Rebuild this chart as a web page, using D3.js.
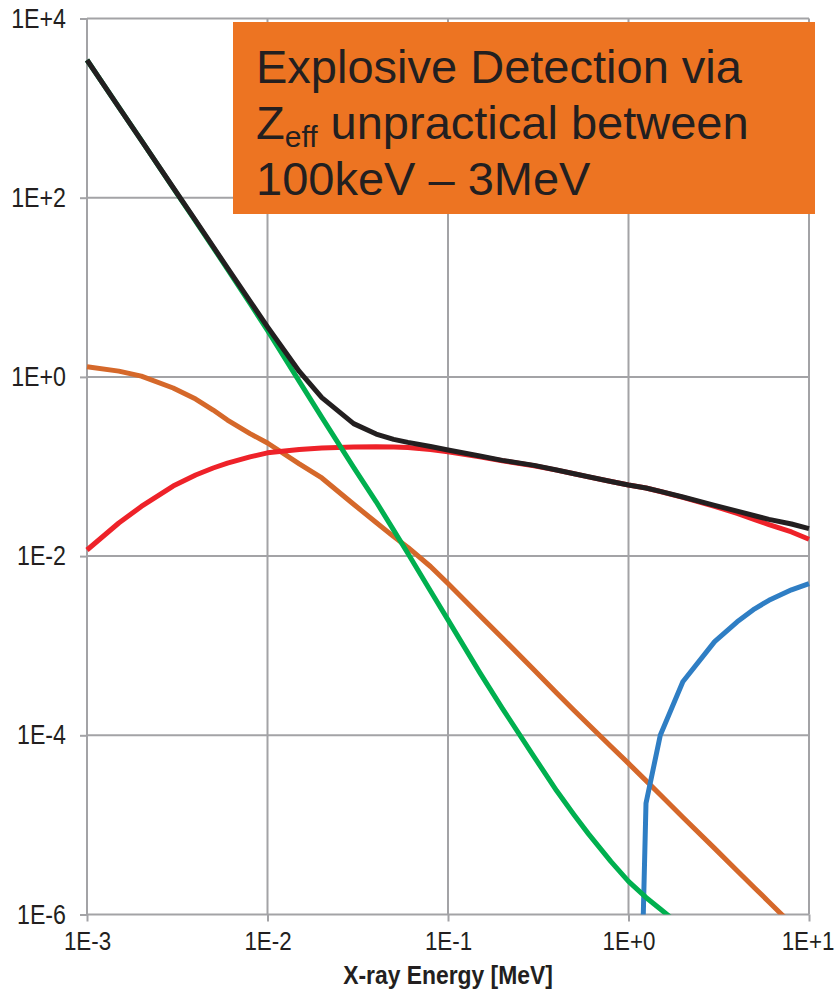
<!DOCTYPE html>
<html>
<head>
<meta charset="utf-8">
<script src="https://cdn.jsdelivr.net/npm/d3@7"></script>
<style>
  body { margin: 0; background: #fff; }
  svg { display: block; }
  .tick text { font-family: "Liberation Sans", Arial, sans-serif; fill: #231f20; }
</style>
</head>
<body>
<script>
// energies in MeV (common grid for all series)
var energy = [0.001, 0.0015, 0.002, 0.003, 0.004, 0.005, 0.006, 0.008, 0.01, 0.015,
  0.02, 0.03, 0.04, 0.05, 0.06, 0.08, 0.1, 0.15, 0.2, 0.3, 0.4, 0.5, 0.6, 0.8,
  1, 1.25, 1.5, 2, 3, 4, 5, 6, 8, 10];

// total attenuation (black)
var total = [3443, 1028, 437, 130, 55.4, 28.4, 16.5, 7.0, 3.62, 1.15,
  0.588, 0.301, 0.230, 0.201, 0.186, 0.167, 0.153, 0.131, 0.117, 0.103, 0.0913, 0.0831, 0.0769, 0.0681,
  0.0622, 0.0576, 0.0527, 0.0457, 0.0369, 0.0318, 0.0282, 0.0257, 0.0228, 0.0203];

// photoelectric (green)
var photo = [3440, 1027, 436, 129, 54.5, 27.8, 16.0, 6.6, 3.3, 0.89,
  0.353, 0.098, 0.0404, 0.0195, 0.0107, 0.00407, 0.00194, 5.01e-4, 2.0e-4, 5.75e-5, 2.40e-5, 1.29e-5, 7.94e-6, 3.89e-6,
  2.34e-6, 1.55e-6, 1.15e-6, 7.2e-7, 4.5e-7, 3.2e-7, 2.5e-7, 2.0e-7, 1.5e-7, 1.2e-7];

// incoherent / Compton (red)
var compton = [0.0117, 0.0234, 0.0358, 0.0605, 0.0804, 0.0962, 0.109, 0.128, 0.142, 0.155,
  0.161, 0.165, 0.166, 0.165, 0.163, 0.155, 0.146, 0.128, 0.116, 0.102, 0.091, 0.0829, 0.0767, 0.068,
  0.0622, 0.0575, 0.0526, 0.0453, 0.0358, 0.0299, 0.0256, 0.0225, 0.0186, 0.0154];

// coherent / Rayleigh (orange)
var coherent = [1.30, 1.16, 1.02, 0.752, 0.566, 0.427, 0.330, 0.233, 0.183, 0.107,
  0.0745, 0.0379, 0.0237, 0.0165, 0.0125, 0.00766, 0.00494, 2.17e-3, 1.22e-3, 5.36e-4, 2.97e-4, 1.89e-4, 1.32e-4, 7.5e-5,
  4.86e-5, 3.12e-5, 2.17e-5, 1.22e-5, 5.47e-6, 3.08e-6, 1.98e-6, 1.38e-6, 7.8e-7, 5.0e-7];

// pair production (blue), only above threshold
var pairEnergy = [1.022, 1.25, 1.5, 2, 3, 4, 5, 6, 8, 10];
var pair = [1e-12, 1.74e-5, 1.0e-4, 3.96e-4, 1.11e-3, 1.85e-3, 2.58e-3, 3.21e-3, 4.20e-3, 4.93e-3];

var xTicks = [1e-3, 1e-2, 1e-1, 1, 10];
var yTicks = [1e-6, 1e-4, 1e-2, 1, 1e2, 1e4];

var svgWidth = 840;
var svgHeight = 993;
var margin = { top: 18.5, right: 31, bottom: 78.5, left: 87 };
var width = svgWidth - margin.left - margin.right;
var height = svgHeight - margin.top - margin.bottom;

var svg = d3.select("body").append("svg")
  .attr("width", svgWidth)
  .attr("height", svgHeight);

var chartGroup = svg.append("g")
  .attr("transform", `translate(${margin.left}, ${margin.top})`);

var xScale = d3.scaleLog().domain([1e-3, 10]).range([0, width]);
var yScale = d3.scaleLog().domain([1e-6, 1e4]).range([height, 0]);

function sciFormat(v) {
  var e = Math.round(Math.log10(v));
  return "1E" + (e < 0 ? "-" : "+") + Math.abs(e);
}

// squeeze a text horizontally (narrow font look), keeping its anchor point
function narrow(sel, k) {
  sel.each(function () {
    var t = d3.select(this);
    var x = +(t.attr("x") || 0);
    t.attr("x", x / k).attr("transform", `scale(${k},1)`);
  });
}

var gridColor = "#a3a3a6";

// grid lines
chartGroup.append("g").selectAll("line")
  .data(xTicks).enter().append("line")
  .attr("x1", d => xScale(d)).attr("x2", d => xScale(d))
  .attr("y1", 0).attr("y2", height)
  .attr("stroke", gridColor).attr("stroke-width", 2);

chartGroup.append("g").selectAll("line")
  .data(yTicks).enter().append("line")
  .attr("x1", 0).attr("x2", width)
  .attr("y1", d => yScale(d)).attr("y2", d => yScale(d))
  .attr("stroke", gridColor).attr("stroke-width", 2);

// axes (outward tick marks + labels)
var bottomAxis = d3.axisBottom(xScale).tickValues(xTicks).tickFormat(sciFormat)
  .tickSizeInner(7).tickSizeOuter(0).tickPadding(10);
var leftAxis = d3.axisLeft(yScale).tickValues(yTicks).tickFormat(sciFormat)
  .tickSizeInner(7).tickSizeOuter(0).tickPadding(14);

var xAxis = chartGroup.append("g")
  .attr("transform", `translate(0, ${height})`)
  .call(bottomAxis);
var yAxis = chartGroup.append("g").call(leftAxis);

[xAxis, yAxis].forEach(function (ax) {
  ax.select(".domain").remove();
  ax.selectAll(".tick line").attr("stroke", gridColor).attr("stroke-width", 2);
});

// last x label sits at the window edge: keep it inside
xAxis.selectAll(".tick text").filter(d => d === 10)
  .attr("text-anchor", "end")
  .attr("x", 25);

xAxis.selectAll(".tick text").style("font-size", "26px").call(narrow, 0.86);
yAxis.selectAll(".tick text").style("font-size", "27px").call(narrow, 0.86);

// x axis title
chartGroup.append("text")
  .attr("x", width / 2)
  .attr("y", height + 70)
  .attr("text-anchor", "middle")
  .style("font-family", "'Liberation Sans', Arial, sans-serif")
  .style("font-weight", "bold")
  .style("font-size", "26px")
  .attr("fill", "#231f20")
  .text("X-ray Energy [MeV]")
  .call(narrow, 0.88);

// clip curves to the plot area
svg.append("defs").append("clipPath").attr("id", "plotClip")
  .append("rect").attr("x", -3).attr("y", -3).attr("width", width + 6).attr("height", height + 3);

var line = d3.line()
  .x(d => xScale(d[0]))
  .y(d => yScale(d[1]));

var series = [
  { xs: energy, ys: coherent, color: "#d5682a" },
  { xs: energy, ys: compton, color: "#ee2229" },
  { xs: pairEnergy, ys: pair, color: "#2f7ec4" },
  { xs: energy, ys: photo, color: "#00b04f" },
  { xs: energy, ys: total, color: "#231f20" }
];

var curves = chartGroup.append("g").attr("clip-path", "url(#plotClip)");
series.forEach(function (s) {
  curves.append("path")
    .datum(s.xs.map((e, i) => [e, s.ys[i]]))
    .attr("d", line)
    .attr("fill", "none")
    .attr("stroke", s.color)
    .attr("stroke-width", 5)
    .attr("stroke-linejoin", "round");
});

// annotation box
var note = svg.append("g");
note.append("rect")
  .attr("x", 233).attr("y", 22)
  .attr("width", 582).attr("height", 192)
  .attr("fill", "#ed7422");

var noteText = note.append("text")
  .style("font-family", "'Liberation Sans', Arial, sans-serif")
  .style("font-size", "47px")
  .attr("fill", "#231f20");

noteText.append("tspan").attr("x", 256).attr("y", 83).text("Explosive Detection via");
noteText.append("tspan").attr("x", 256).attr("y", 139).text("Z");
noteText.append("tspan").attr("dy", 8).style("font-size", "30px").text("eff");
noteText.append("tspan").attr("dy", -8).text(" unpractical between");
noteText.append("tspan").attr("x", 256).attr("y", 195).text("100keV \u2013 3MeV");
</script>
</body>
</html>
